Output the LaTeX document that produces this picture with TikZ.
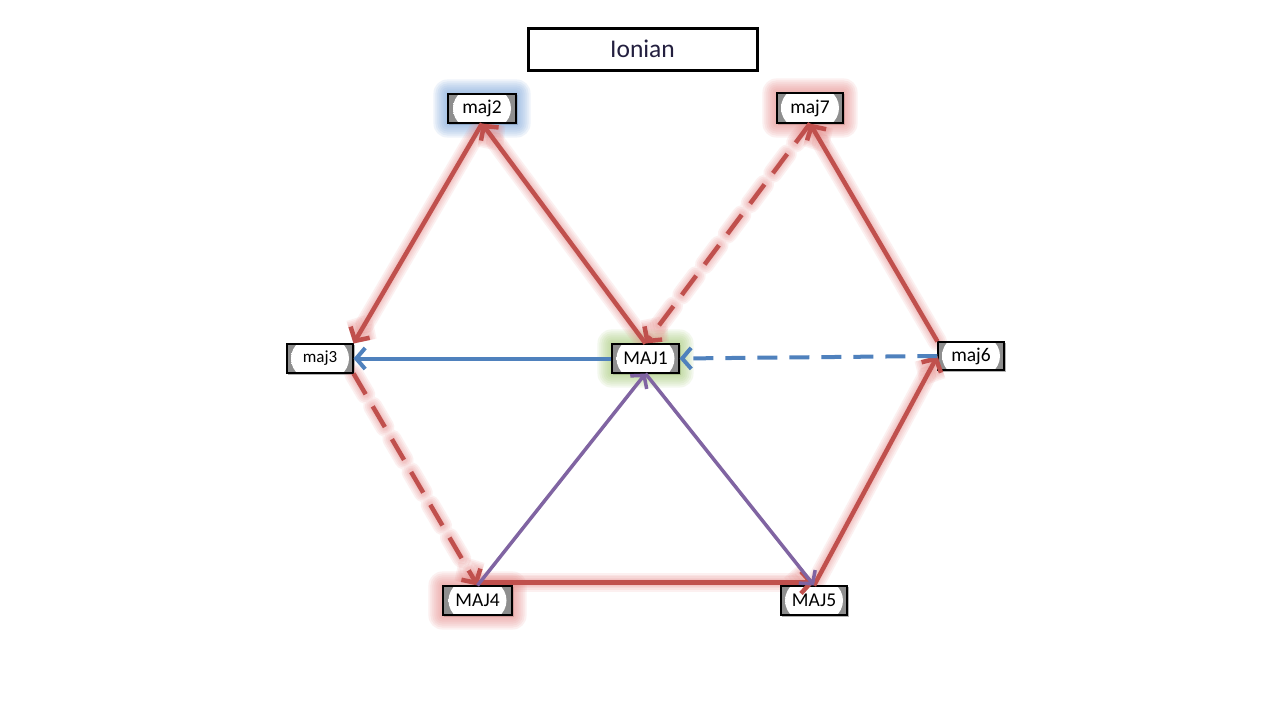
\documentclass[tikz,border=0pt]{standalone}
\usepackage{fontspec}
\setmainfont{Carlito}
\usetikzlibrary{arrows.meta}
\definecolor{cred}{HTML}{C0504D}
\definecolor{cglow}{HTML}{E8908E}
\definecolor{cblue}{HTML}{4F81BD}
\definecolor{cpurp}{HTML}{8064A2}
\definecolor{cgreen}{HTML}{A9CC7A}
\definecolor{cbglow}{HTML}{7FA8DC}
\definecolor{ngray}{HTML}{8E8E8E}
\definecolor{titlecol}{HTML}{231F3F}
\pgfdeclareradialshading{nodeshade}{\pgfpoint{0bp}{0bp}}{color(0bp)=(white); color(36bp)=(white); color(50bp)=(ngray); color(70bp)=(ngray)}
\pgfdeclarelayer{bg}
\pgfsetlayers{bg,main}
\tikzset{
  box/.style={draw=black, line width=1.1pt, inner sep=0pt, minimum width=67pt, minimum height=29pt,
    font=\fontsize{19.5}{22}\selectfont,
    path picture={\fill[ngray] (path picture bounding box.south west) rectangle (path picture bounding box.north east);
      \shade[shading=nodeshade] (path picture bounding box.center) ellipse [x radius=29pt, y radius=24pt];}},
  titlebox/.style={draw=black, line width=3pt, fill=white, minimum width=229pt, minimum height=42pt, inner sep=0pt,
    text=titlecol, font=\fontsize{25.5}{28}\selectfont},
  redtip/.style={-{Straight Barb[length=10pt,width=22pt]}},
  redline/.style={draw=cred, line width=4.5pt, redtip},
  redglow/.style={draw=cglow, line width=#1, opacity=0.13, line cap=round, redtip},
  reddash/.style={dash pattern=on 24pt off 14pt},
  blueline/.style={draw=cblue, line width=4pt, -{Straight Barb[length=9pt,width=21pt]}},
  purpline/.style={draw=cpurp, line width=3.5pt, -{Straight Barb[length=9pt,width=21pt]}},
}
\newcommand\GlowLine[3][]{%
  \begin{pgfonlayer}{bg}
  \foreach \w in {19,15.5,12,9,6.5} {\draw[redglow=\w pt,#1] #2 -- #3;}
  \end{pgfonlayer}
  \draw[redline,#1] #2 -- #3;}
\newcommand\NodeGlow[2]{%
  \begin{pgfonlayer}{bg}
  \foreach \s in {2,4,...,14} {%
    \fill[#2, opacity=0.13, rounded corners=\s pt] ([shift={(-\s pt,\s pt)}]#1.north west) rectangle ([shift={(\s pt,-\s pt)}]#1.south east);}
  \end{pgfonlayer}}
\newcommand\NodeShadow[1]{%
  \begin{pgfonlayer}{bg}
  \fill[black, opacity=0.3] ([shift={(1.8pt,-1.8pt)}]#1.north west) rectangle ([shift={(1.8pt,-1.8pt)}]#1.south east);
  \end{pgfonlayer}}
\begin{document}
\begin{tikzpicture}[x=1pt,y=-1pt]
\useasboundingbox (0,0) rectangle (1280,720);
\begin{pgfonlayer}{bg}
\fill[white] (0,0) rectangle (1280,720);
\end{pgfonlayer}

\node[titlebox] (title) at (642.5,49) {Ionian};

\node[box, minimum width=68pt] (maj2) at (482,108.5) {maj2};
\node[box, minimum width=66pt, minimum height=30pt] (maj7) at (810,108) {maj7};
\node[box, minimum width=66pt, font=\fontsize{17}{20}\selectfont] (maj3) at (320,358.5) {maj3};
\node[box, minimum width=66pt, minimum height=28pt] (maj6) at (971,356) {maj6};
\node[box] (MAJ1) at (645.5,358.5) {MAJ1};
\node[box, minimum width=69pt] (MAJ4) at (477.5,600.5) {MAJ4};
\node[box, minimum width=66pt] (MAJ5) at (814,600.5) {MAJ5};

\foreach \n in {maj2,maj7,maj3,maj6,MAJ1,MAJ4,MAJ5} {\NodeShadow{\n}}
\NodeGlow{maj2}{cbglow}
\NodeGlow{maj7}{cglow}
\NodeGlow{MAJ1}{cgreen}
\NodeGlow{MAJ4}{cglow}

% red solid glowing edges
\GlowLine{(MAJ1.north)}{(maj2.south)}
\GlowLine{(maj2.south)}{(maj3.north east)}
\GlowLine{([yshift=3pt]MAJ4.north)}{([yshift=3pt]MAJ5.north)}
\GlowLine{(MAJ5.north)}{(maj6.west)}
\GlowLine{(maj6.north west)}{(maj7.south)}
% red dashed glowing edges
\GlowLine[reddash]{(maj3.south east)}{(MAJ4.north)}
\GlowLine[reddash]{(maj7.south)}{(MAJ1.north)}

% blue edges
\draw[blueline] (MAJ1.west) -- (maj3.east);
\draw[blueline, dash pattern=on 20pt off 12pt] (maj6.west) -- (MAJ1.east);

% purple edges
\draw[purpline] (MAJ4.north) -- (MAJ1.south);
\draw[purpline] (MAJ1.south) -- (MAJ5.north);
\end{tikzpicture}
\end{document}
